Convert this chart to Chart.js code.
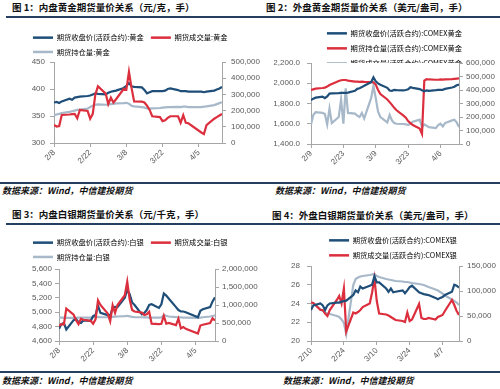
<!DOCTYPE html>
<html><head><meta charset="utf-8">
<script src="https://cdn.jsdelivr.net/npm/chart.js@4.4.1/dist/chart.umd.min.js"></script>
<style>
html,body{margin:0;padding:0;width:500px;height:389px;overflow:hidden;background:#fff;position:relative}
.t{position:absolute;font-family:"Noto Sans CJK SC";font-weight:bold;font-size:9.5px;color:#111;white-space:nowrap;line-height:9.5px}
.s{position:absolute;font-family:"Noto Sans CJK SC";font-weight:bold;font-style:italic;font-size:9px;color:#111;white-space:nowrap;line-height:9px}
.hl{position:absolute;height:1.5px;background:#243f60}
canvas{position:absolute}
</style></head><body>
<div class="hl" style="left:6px;top:16px;width:494px"></div>
<div class="hl" style="left:0;top:182px;width:500px"></div>
<div class="hl" style="left:6px;top:223px;width:494px"></div>
<div class="hl" style="left:0;top:371px;width:500px"></div>
<div class="t" style="left:12px;top:3.25px">图 1：内盘黄金期货量价关系（元/克，手）</div>
<div class="t" style="left:266px;top:3.25px">图 2：外盘黄金期货量价关系（美元/盎司，手）</div>
<div class="t" style="left:12px;top:210.25px">图 3：内盘白银期货量价关系（元/千克，手）</div>
<div class="t" style="left:272px;top:211.25px">图 4：外盘白银期货量价关系（美元/盎司，手）</div>
<div class="s" style="left:2px;top:186px">数据来源：Wind，中信建投期货</div>
<div class="s" style="left:275px;top:186px">数据来源：Wind，中信建投期货</div>
<div class="s" style="left:2px;top:375.5px">数据来源：Wind，中信建投期货</div>
<div class="s" style="left:283px;top:375.5px">数据来源：Wind，中信建投期货</div>
<canvas id="c1" width="236" height="148" style="left:26px;top:27px"></canvas>
<canvas id="c2" width="241" height="154" style="left:274px;top:22px"></canvas>
<canvas id="c3" width="236" height="141" style="left:26px;top:232px"></canvas>
<canvas id="c4" width="230" height="144" style="left:278px;top:229px"></canvas>
<script>
// ---------- Panel 1: SHFE gold ----------
const dates1 = ['2/8','2/9','2/10','2/11','2/14','2/15','2/16','2/17','2/18','2/21','2/22','2/23','2/24','2/25','2/28','3/1','3/2','3/3','3/4','3/7','3/8','3/9','3/10','3/11','3/14','3/15','3/16','3/17','3/18','3/21','3/22','3/23','3/24','3/25','3/28','3/29','3/30','3/31','4/1','4/6','4/7','4/8','4/11','4/12','4/13','4/14'];
const auPrice = [375,376,374,377, 382,380,384,385,386, 387,388,390,392,391, 390, 393,395,396,397, 402,406,411,405,404, 403,398,392,394,396, 396,396,397,400,401, 398,396,396,396,395, 395,394,395, 397,399,401,404];
const auVolume = [112000,102000,105000,173000, 176000,178000,180000,153000,204000, 198000,150000,180000,300000,350000, 305000, 240000,280000,250000,270000, 335000,330000,440000,340000,257000, 255000,250000,230000,204000,165000, 160000,135000,140000,155000,165000, 165000,125000,172000,125000,122000, 65000,55000,110000, 150000,160000,170000,180000];
const auOI = [172000,176000,180000,185000, 192000,196000,200000,204000,206000, 212000,222000,230000,236000,238000, 236000, 238000,240000,242000,244000, 246000,248000,242000,230000,226000, 222000,218000,214000,212000,214000, 216000,218000,220000,222000,222000, 223000,222000,224000,224000,222000, 222000,224000,226000, 234000,240000,246000,252000];
const ticks1 = ['2/8','2/22','3/8','3/22','4/5'];

// ---------- Panel 2: COMEX gold ----------
const dates2 = ['2/9','2/10','2/11','2/14','2/15','2/16','2/17','2/18','2/21','2/22','2/23','2/24','2/25','2/28','3/1','3/2','3/3','3/4','3/7','3/8','3/9','3/10','3/11','3/14','3/15','3/16','3/17','3/18','3/21','3/22','3/23','3/24','3/25','3/28','3/29','3/30','3/31','4/1','4/4','4/5','4/6','4/7','4/8','4/11','4/12','4/13','4/14'];
const gcPrice = [1835,1848,1858, 1868,1852,1870,1898,1900, 1902,1905,1906,1905,1908, 1925, 1945,1950,1962,1975, 2010,2058,2020,1998,1985, 1955,1928,1925,1935,1932, 1930,1933,1940,1960,1955, 1942,1930,1920,1930, 1925, 1932,1935,1935,1935,1945, 1958,1965,1980,1988];
const gcOI = [400000,405000,410000, 415000,418000,425000,437000,445000, 467000,472000,474000,474000,470000, 462000, 462000,460000,462000,460000, 458000,457000,440000,400000,370000, 330000,310000,290000,268000,250000, 210000,195000,170000,155000,140000, 115000,75000,470000,480000, 478000, 476000,476000,478000,477000,478000, 480000,482000,484000,486000];
const gcVolume = [145000,215000,235000, 230000,222000,145000,262000,155000, 200000,330000,150000,412000,230000, 225000, 210000,200000,230000,190000, 340000,430000,340000,240000,200000, 160000,215000,175000,155000,150000, 148000,145000,142000,150000,165000, 180000,125000,145000,135000, 125000, 118000,140000,150000,130000,155000, 175000,180000,160000,125000];
const ticks2 = ['2/9','2/23','3/9','3/23','4/6'];

// ---------- Panel 3: SHFE silver ----------
const dates3 = ['2/8','2/9','2/10','2/11','2/14','2/15','2/16','2/17','2/18','2/21','2/22','2/23','2/24','2/25','2/28','3/1','3/2','3/3','3/4','3/7','3/8','3/9','3/10','3/11','3/14','3/15','3/16','3/17','3/18','3/21','3/22','3/23','3/24','3/25','3/28','3/29','3/30','3/31','4/1','4/6','4/7','4/8','4/11','4/12','4/13'];
const agPrice = [4770,4835,4850,4760, 4890,4905,4860,4850,4885, 4880,4945,4960,5090,4990, 4960, 4950,5060,5075,5070, 5200,5310,5250,5135,5100, 4970,4990,5030,5100,5110, 5060,5110,5260,5230,5190, 5070,5030,5010,5010,5000, 4930,5020,5040, 5070,5150,5205];
const agVolume = [420000,470000,460000,900000, 730000,580000,470000,620000,590000, 560000,480000,600000,1130000,1000000, 760000, 550000,990000,780000,1000000, 1270000,1650000,1150000,860000,820000, 790000,720000,740000,810000,480000, 470000,480000,700000,480000,500000, 440000,620000,350000,390000,340000, 210000,430000,450000, 500000,630000,570000];
const agOI = [650000,650000,648000,645000, 640000,645000,648000,650000,648000, 650000,660000,665000,670000,665000, 660000, 668000,670000,675000,680000, 690000,700000,685000,670000,665000, 660000,658000,655000,650000,648000, 650000,655000,720000,700000,680000, 665000,660000,655000,650000,648000, 645000,650000,660000, 680000,695000,710000];
const ticks3 = ['2/8','2/22','3/8','3/22','4/5'];

// ---------- Panel 4: COMEX silver ----------
const dates4 = ['2/10','2/11','2/14','2/15','2/16','2/17','2/18','2/21','2/22','2/23','2/24','2/25','2/28','3/1','3/2','3/3','3/4','3/7','3/8','3/9','3/10','3/11','3/14','3/15','3/16','3/17','3/18','3/21','3/22','3/23','3/24','3/25','3/28','3/29','3/30','3/31','4/1','4/4','4/5','4/6','4/7','4/8','4/11','4/12','4/13','4/14'];
const siPrice = [23.3,23.8, 24.0,23.8,23.3,23.8,24.0, 24.1,24.1,24.2,24.25,24.3, 24.9, 25.4,25.2,25.8,25.6, 25.9,26.0,26.9,26.25,26.25, 25.6,25.25,25.6,25.2,25.25, 25.4,25.1,25.4,25.75,25.9, 25.2,25.1,25.0,24.95, 24.9, 24.6,24.45,24.6,24.7,24.9, 25.25,26.0,25.9,25.7];
const siVolume = [77000,76000, 62000,62000,55000,50000,62000, 82000,90000,75000,105000,19000, 57000, 55000,58000,62000,68000, 75000,97000,125000,80000,55000, 53000,51000,48000,45000,42000, 40000,38000,57000,40000,43000, 74000,46000,44000,44000, 46000, 43000,48000,50000,52000,60000, 82000,72000,60000,52000];
const siOI = [78000,75000, 64000,60000,57000,55000,54000, 50000,48000,43000,36000,14000, 112000, 124000,127000,129000,130000, 132000,133000,134000,130000,128000, 124000,123000,122000,121000,120000, 119000,118000,118000,117000,116000, 114000,113000,112000,110000, 108000, 103000,101000,98000,95000,91000, 83000,80000,77000,72000];
const ticks4 = ['2/10','2/24','3/10','3/24','4/7'];

const BLUE = '#1f4e79', RED = '#dc2f3e', GRAY = '#a7b8c9', AXIS = '#a6a6a6', TXT = '#595959';
const NUM_FONT = "'Liberation Sans', Arial, sans-serif";
const CJK_FONT = "'Noto Sans CJK SC', sans-serif";

function dayIndex(list, base) {
  const [m0, d0] = base.split('/').map(Number);
  const t0 = Date.UTC(2022, m0 - 1, d0);
  return list.map(s => { const [m, d] = s.split('/').map(Number); return Math.round((Date.UTC(2022, m - 1, d) - t0) / 864e5); });
}
function pts(xs, ys) { return ys.map((v, i) => ({x: xs[i], y: v})); }
const fmt = (dec) => (v) => Number(v).toLocaleString('en-US', {minimumFractionDigits: dec, maximumFractionDigits: dec});

function build(id, o) {
  const xs = dayIndex(o.dates, o.dates[0]);
  const tx = dayIndex(o.ticks, o.dates[0]);
  const lbl = {}; tx.forEach((v, i) => lbl[v] = o.ticks[i]);
  const datasets = o.series.map(s => ({
    label: s.label, data: pts(xs, s.values), yAxisID: s.axis, borderColor: s.color,
    backgroundColor: s.color, borderWidth: 2.2, pointRadius: 0, tension: 0, order: s.order, fill: false
  }));
  const yAxis = (pos, a) => ({
    type: 'linear', position: pos, min: a.min, max: a.max,
    ticks: {stepSize: a.step, callback: fmt(a.dec || 0), color: TXT, font: {size: 8, family: NUM_FONT}, padding: a.pad},
    grid: {drawOnChartArea: false, drawTicks: true, tickLength: 4, color: AXIS},
    border: {color: AXIS},
    afterFit: s => { s.width = a.w; }
  });
  new Chart(document.getElementById(id), {
    type: 'line',
    data: {datasets},
    options: {
      responsive: false, animation: false, devicePixelRatio: 1,
      layout: {padding: 0},
      plugins: {
        tooltip: {enabled: false},
        legend: {
          display: true, position: 'top', align: o.align, maxHeight: o.legendH,
          labels: {
            boxWidth: 20, boxHeight: 2.5, padding: o.legendPad, color: '#404040',
            font: {size: 7.3, family: CJK_FONT},
            generateLabels: ch => ch.data.datasets.map((ds, i) => ({
              text: ds.label, fillStyle: ds.borderColor, strokeStyle: ds.borderColor, lineWidth: 0, hidden: false, datasetIndex: i
            }))
          }
        }
      },
      scales: {
        x: {
          type: 'linear', min: 0, max: xs[xs.length - 1],
          afterBuildTicks: s => { s.ticks = tx.map(v => ({value: v})); },
          ticks: {autoSkip: false, minRotation: 45, maxRotation: 45, padding: 1, color: TXT,
                  font: {size: 8, family: NUM_FONT}, callback: v => lbl[v] || ''},
          grid: {drawOnChartArea: false, drawTicks: true, tickLength: 4, color: AXIS},
          border: {color: AXIS},
          afterFit: s => { s.height = o.xH; }
        },
        yL: yAxis('left', o.left),
        yR: yAxis('right', o.right)
      }
    }
  });
}

build('c1', {
  dates: dates1, ticks: ticks1, align: 'start', legendH: 35, legendPad: 7, xH: 32,
  left: {min: 300, max: 450, step: 50, w: 28, pad: 5},
  right: {min: 0, max: 500000, step: 100000, w: 40, pad: 5},
  series: [
    {label: '期货收盘价(活跃合约):黄金', values: auPrice, axis: 'yL', color: BLUE, order: 2},
    {label: '期货成交量:黄金', values: auVolume, axis: 'yR', color: RED, order: 1},
    {label: '期货持仓量:黄金', values: auOI, axis: 'yR', color: GRAY, order: 3}
  ]
});
build('c2', {
  dates: dates2, ticks: ticks2, align: 'center', legendH: 41, legendPad: 7.7, xH: 32,
  left: {min: 1400, max: 2200, step: 200, dec: 1, w: 37, pad: 7},
  right: {min: 0, max: 600000, step: 100000, w: 56, pad: 3},
  series: [
    {label: '期货收盘价(活跃合约):COMEX黄金', values: gcPrice, axis: 'yL', color: BLUE, order: 1},
    {label: '期货持仓量(活跃合约):COMEX黄金', values: gcOI, axis: 'yR', color: RED, order: 2},
    {label: '期货成交量(活跃合约):COMEX黄金', values: gcVolume, axis: 'yR', color: GRAY, order: 3}
  ]
});
build('c3', {
  dates: dates3, ticks: ticks3, align: 'start', legendH: 37, legendPad: 7, xH: 32,
  left: {min: 4600, max: 5600, step: 200, w: 33, pad: 3},
  right: {min: 0, max: 2000000, step: 500000, w: 47, pad: 3},
  series: [
    {label: '期货收盘价(活跃合约):白银', values: agPrice, axis: 'yL', color: BLUE, order: 2},
    {label: '期货成交量:白银', values: agVolume, axis: 'yR', color: RED, order: 1},
    {label: '期货持仓量:白银', values: agOI, axis: 'yR', color: GRAY, order: 3}
  ]
});
build('c4', {
  dates: dates4, ticks: ticks4, align: 'center', legendH: 37, legendPad: 7.7, xH: 32,
  left: {min: 20, max: 28, step: 2, w: 33, pad: 7},
  right: {min: 0, max: 150000, step: 50000, w: 49, pad: 4},
  series: [
    {label: '期货收盘价(活跃合约):COMEX银', values: siPrice, axis: 'yL', color: BLUE, order: 1},
    {label: '期货成交量(活跃合约):COMEX银', values: siVolume, axis: 'yR', color: RED, order: 2},
    {label: '期货持仓量(活跃合约):COMEX银', values: siOI, axis: 'yR', color: GRAY, order: 3}
  ]
});
</script>
</body></html>
